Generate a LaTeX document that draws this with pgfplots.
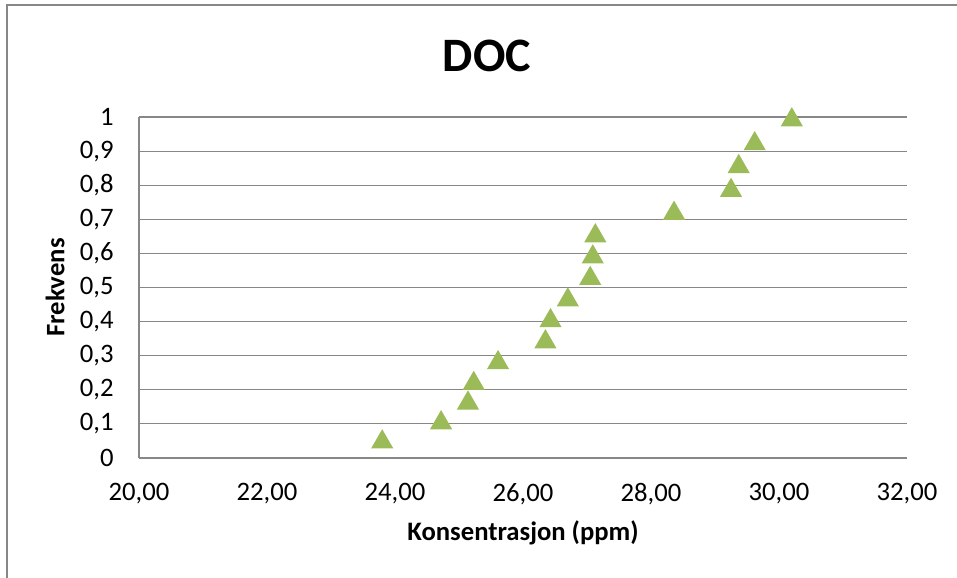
\documentclass[border=0pt]{standalone}
\usepackage{pgfplots}
\pgfplotsset{compat=1.18}
\usepackage{fontspec}
\setmainfont{Carlito}
\definecolor{gridgray}{HTML}{878787}
\definecolor{markgreen}{HTML}{9BBB59}
\begin{document}
\begin{tikzpicture}
\useasboundingbox (0,0) rectangle (358.875pt,216.375pt);
\draw[gridgray, line width=0.4pt] (2.625pt,-5pt) -- (2.625pt,214.5pt) -- (365pt,214.5pt);
\begin{axis}[
  at={(52.125pt,44.625pt)}, anchor=south west,
  scale only axis, width=288pt, height=127.875pt,
  xmin=20, xmax=32, ymin=0, ymax=1,
  xtick={20,22,...,32}, ytick={0,0.1,...,1.01},
  axis x line*=bottom, axis y line*=left,
  axis line style={gridgray, line width=0.4pt, -},
  major tick length=0pt,
  ymajorgrids, grid style={gridgray, line width=0.4pt},
  clip=false,
  /pgf/number format/assume math mode=true,
  /pgf/number format/use comma,
  xticklabel={\pgfmathprintnumber[fixed, fixed zerofill, precision=2]{\tick}},
  yticklabel={\pgfmathprintnumber[fixed, precision=1]{\tick}},
  tick label style={font=\fontsize{10}{12}\selectfont, black},
  yticklabel style={xshift=-6pt},
  xticklabel style={yshift=-6pt},
  xlabel={Konsentrasjon (ppm)},
  ylabel={Frekvens},
  label style={font=\fontsize{10}{12}\selectfont\bfseries},
  xlabel style={at={(axis description cs:0.5,0)}, anchor=center, yshift=-28.1pt},
  ylabel style={at={(axis description cs:0,0.5)}, anchor=center, rotate=0, yshift=31.5pt},
  title={DOC},
  title style={at={(axis description cs:0.5,1)}, anchor=center, xshift=-13.5pt, yshift=16.9pt, font=\fontsize{18}{22}\selectfont\bfseries},
]
\addplot[only marks, mark=triangle*, mark size=4.4pt,
  mark options={fill=markgreen, draw=markgreen, yshift=-1.1pt}]
coordinates {
(23.80,0.0555) (24.72,0.1116) (25.14,0.1695) (25.23,0.227) (25.61,0.288)
(26.35,0.349) (26.43,0.411) (26.70,0.472) (27.05,0.535) (27.09,0.598)
(27.13,0.660) (28.36,0.726) (29.25,0.793) (29.37,0.863) (29.62,0.930)
(30.20,1.000)
};
\end{axis}
\end{tikzpicture}
\end{document}
